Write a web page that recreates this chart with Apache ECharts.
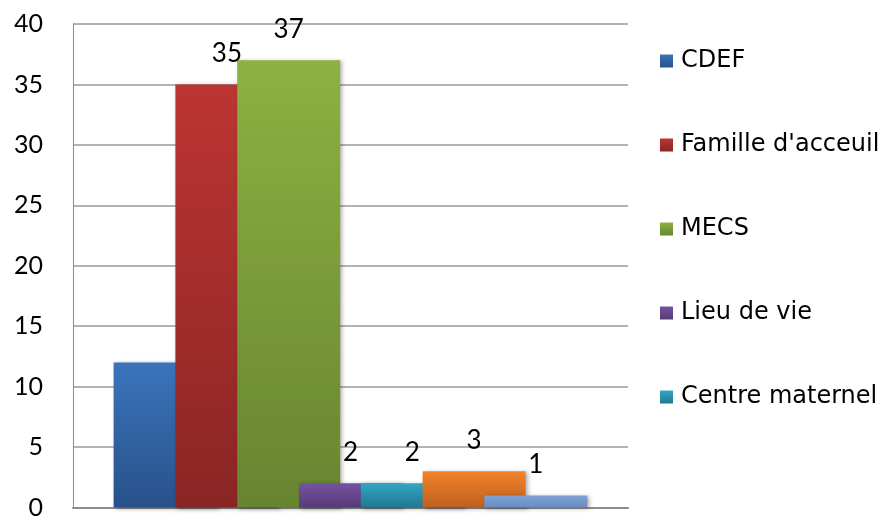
<!DOCTYPE html>
<html>
<head>
<meta charset="utf-8">
<script src="https://cdn.jsdelivr.net/npm/echarts@6/dist/echarts.min.js"></script>
<style>
html,body{margin:0;padding:0;background:#fff;}
#chart{width:895px;height:520px;}
</style>
</head>
<body>
<div id="chart"></div>
<script>
var categories = [''];
var seriesNames = ['CDEF', "Famille d'acceuil", 'MECS', 'Lieu de vie', 'Centre maternel', 'Série 6', 'Série 7'];
var seriesValues = [12, 35, 37, 2, 2, 3, 1];
var showLabel = [false, true, true, true, true, true, true];
var legendNames = ['CDEF', "Famille d'acceuil", 'MECS', 'Lieu de vie', 'Centre maternel'];
var yTicks = [0, 5, 10, 15, 20, 25, 30, 35, 40];

var gradients = [
  ['#3B74BC', '#27518A'],
  ['#BC3532', '#8A2525'],
  ['#8DB142', '#678530'],
  ['#7553A4', '#573B73'],
  ['#31A6C6', '#227791'],
  ['#F2842A', '#BF5F1E'],
  ['#80A3D6', '#6A8CC0']
];

var chart = echarts.init(document.getElementById('chart'), null, {renderer: 'canvas'});
var series = seriesNames.map(function (name, i) {
  return {
    name: name,
    type: 'bar',
    data: [seriesValues[i]],
    barWidth: 103,
    barGap: '-40%',
    itemStyle: {
      color: new echarts.graphic.LinearGradient(0, 0, 0, 1, [
        {offset: 0, color: gradients[i][0]},
        {offset: 1, color: gradients[i][1]}
      ]),
      shadowBlur: 4,
      shadowColor: 'rgba(0,0,0,0.3)',
      shadowOffsetX: 2,
      shadowOffsetY: 1
    },
    label: {
      show: showLabel[i],
      position: 'top',
      distance: 18,
      color: '#000',
      fontFamily: 'Lato',
      fontSize: 26
    },
    emphasis: {disabled: true}
  };
});

chart.setOption({
  animation: false,
  backgroundColor: '#fff',
  grid: {left: 73, right: 267, top: 24, bottom: 10, containLabel: false},
  legend: {
    data: legendNames,
    orient: 'vertical',
    left: 655,
    top: 44,
    itemWidth: 13,
    itemHeight: 13,
    itemGap: 60,
    icon: 'rect',
    textStyle: {fontFamily: 'DejaVu Sans', fontSize: 24, color: '#000', padding: [0, 0, 0, 3]}
  },
  xAxis: {
    type: 'category',
    data: categories,
    axisLine: {show: true, lineStyle: {color: '#8c8c8c', width: 2}},
    axisTick: {show: false},
    axisLabel: {show: false}
  },
  yAxis: {
    type: 'value',
    min: yTicks[0],
    max: yTicks[yTicks.length - 1],
    interval: 5,
    axisLine: {show: true, lineStyle: {color: '#8c8c8c', width: 1}},
    axisTick: {show: false},
    axisLabel: {color: '#000', fontFamily: 'Lato', fontSize: 25, margin: 30},
    splitLine: {lineStyle: {color: '#9a9a9a', width: 1.5}}
  },
  series: series
});
</script>
</body>
</html>
